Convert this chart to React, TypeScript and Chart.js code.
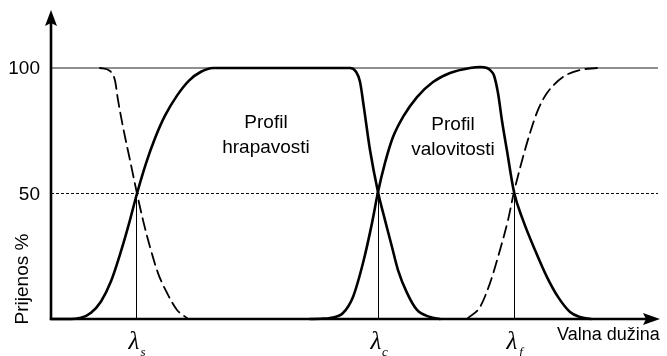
import React, { useEffect, useRef } from "react";
import { Chart, registerables } from "chart.js";

Chart.register(...registerables);

// ---- data (x: wavelength units along the axis, y: transmission %) ----
const xMax = 609;
const yTickValues = [100, 50];
const yTickLabels = ["100", "50"];
const refEnd = 607;
const lambdaX = [85.5, 327.5, 463.5];
const lambdaSubs = ["s", "c", "f"];

// roughness profile (band between λs and λc)
const roughnessX = [0, 16, 30, 40, 50, 60, 70, 78, 86, 95, 104, 114, 126, 138, 150, 162, 299, 305, 309, 313, 319, 327, 334, 341, 347, 356, 366, 379, 389];
const roughnessY = [0, 0, 0.5, 2.5, 7, 15, 27, 38, 50, 62, 72, 81, 89, 95, 98.5, 100, 100, 98.5, 94.5, 84, 67.3, 50.6, 39.4, 28.7, 19.5, 10.4, 3.6, 0.8, 0];

// waviness profile (band between λc and λf)
const wavinessX = [259, 270, 279, 292, 302, 312, 321, 327, 334, 342, 352, 366, 382, 399, 419, 429, 436, 440, 443, 447, 451, 456, 463, 472, 484, 496, 507, 519, 529, 540];
const wavinessY = [0, 0.1, 0.4, 2.4, 8.8, 22.3, 38.2, 50.6, 62.2, 72.5, 80.5, 88.4, 94.4, 98, 100, 100.4, 100, 98.8, 97, 90, 79, 67, 50.6, 39.4, 27.5, 16.7, 8.8, 2.8, 0.8, 0];

// dashed cut-off at λs
const shortCutX = [49, 59, 64, 67, 72, 79, 86, 92, 99, 107, 116, 126, 136];
const shortCutY = [100, 98.8, 95, 87.3, 76.5, 63.3, 50, 39.4, 28.7, 18.3, 10.4, 3.6, 0.4];

// dashed cut-off at λf
const longCutX = [417, 429, 439, 449, 457, 463, 472, 479, 487, 496, 512, 529, 546];
const longCutY = [0.4, 4.8, 14.3, 27.5, 39.4, 50.6, 64.5, 74.1, 83.3, 90, 96.4, 99.2, 100];

const profileLabels = [
  { x: 215, y: 78, lines: ["Profil", "hrapavosti"] },
  { x: 402, y: 77.3, lines: ["Profil", "valovitosti"] },
];
const yAxisTitle = "Prijenos %";
const xAxisTitle = "Valna dužina";

const pts = (xs: number[], ys: number[]) => xs.map((x, i) => ({ x, y: ys[i] }));

const SANS = '"Liberation Sans", Arial, sans-serif';
const SERIF = '"Liberation Serif", "Times New Roman", serif';

const decorPlugin = {
  id: "decor",
  afterDatasetsDraw(chart: any) {
    const ctx = chart.ctx as CanvasRenderingContext2D;
    const xs = chart.scales.x;
    const ys = chart.scales.y;
    const x0 = xs.getPixelForValue(0);
    const y0 = ys.getPixelForValue(0);
    const xEnd = xs.getPixelForValue(xMax);
    const yTop = ys.getPixelForValue(100) - 58;
    ctx.save();
    // axes
    ctx.strokeStyle = "#000";
    ctx.fillStyle = "#000";
    ctx.lineWidth = 2.6;
    ctx.lineCap = "butt";
    ctx.beginPath();
    ctx.moveTo(x0, y0 + 1);
    ctx.lineTo(x0, yTop + 12);
    ctx.moveTo(x0 - 1.3, y0);
    ctx.lineTo(xEnd - 12, y0);
    ctx.stroke();
    // arrow heads
    ctx.beginPath();
    ctx.moveTo(x0, yTop);
    ctx.lineTo(x0 - 6, yTop + 16);
    ctx.lineTo(x0, yTop + 13);
    ctx.lineTo(x0 + 6, yTop + 16);
    ctx.closePath();
    ctx.fill();
    ctx.beginPath();
    ctx.moveTo(xEnd, y0);
    ctx.lineTo(xEnd - 17, y0 - 6);
    ctx.lineTo(xEnd - 14, y0);
    ctx.lineTo(xEnd - 17, y0 + 6);
    ctx.closePath();
    ctx.fill();

    // y tick labels
    ctx.font = `19px ${SANS}`;
    ctx.textAlign = "right";
    ctx.textBaseline = "middle";
    yTickValues.forEach((v, i) => {
      ctx.fillText(yTickLabels[i], x0 - 11, ys.getPixelForValue(v) + 1);
    });

    // y axis title
    ctx.save();
    ctx.translate(x0 - 28, y0 - 40);
    ctx.rotate(-Math.PI / 2);
    ctx.textAlign = "center";
    ctx.textBaseline = "middle";
    ctx.font = `19px ${SANS}`;
    ctx.fillText(yAxisTitle, 0, 0);
    ctx.restore();

    // x axis title
    ctx.textAlign = "left";
    ctx.textBaseline = "middle";
    ctx.font = `18px ${SANS}`;
    ctx.fillText(xAxisTitle, xEnd - 103, y0 + 16);

    // profile labels
    ctx.textAlign = "center";
    ctx.font = `19px ${SANS}`;
    profileLabels.forEach((p) => {
      const px = xs.getPixelForValue(p.x);
      const py = ys.getPixelForValue(p.y);
      p.lines.forEach((t, i) => ctx.fillText(t, px, py + i * 25));
    });

    // lambda labels
    lambdaX.forEach((lx, i) => {
      const px = xs.getPixelForValue(lx);
      ctx.textAlign = "center";
      ctx.textBaseline = "middle";
      ctx.font = `italic 25px ${SERIF}`;
      ctx.fillText("λ", px - 2.5, y0 + 23);
      ctx.font = `italic 13px ${SERIF}`;
      ctx.fillText(lambdaSubs[i], px + 6.5, y0 + 34);
    });
    ctx.restore();
  },
};

export default function App() {
  const ref = useRef<HTMLCanvasElement | null>(null);
  useEffect(() => {
    if (!ref.current) return;
    const refLine = (level: number, dash: number[], color: string, w: number) => ({
      data: [{ x: 0, y: level }, { x: refEnd, y: level }],
      borderColor: color,
      borderWidth: w,
      borderDash: dash,
      pointRadius: 0,
      order: 2,
    });
    const vLine = (x: number) => ({
      data: [{ x, y: 0 }, { x, y: 50 }],
      borderColor: "#000",
      borderWidth: 1,
      pointRadius: 0,
      order: 2,
    });
    const curve = (xs: number[], ys: number[], dash: number[], w: number) => ({
      data: pts(xs, ys),
      borderColor: "#000",
      borderWidth: w,
      borderDash: dash,
      pointRadius: 0,
      cubicInterpolationMode: "monotone",
      borderCapStyle: "round",
      borderJoinStyle: "round",
      order: 0,
    });
    const chart = new Chart(ref.current, {
      type: "line",
      data: {
        datasets: [
          refLine(yTickValues[0], [], "#6a6a6a", 1.4),
          refLine(yTickValues[1], [3, 2], "#111", 1),
          ...lambdaX.map(vLine),
          curve(roughnessX, roughnessY, [], 2.6),
          curve(wavinessX, wavinessY, [], 2.6),
          curve(shortCutX, shortCutY, [12, 6], 1.8),
          curve(longCutX, longCutY, [12, 6], 1.8),
        ] as any,
      },
      options: {
        animation: false,
        responsive: false,
        clip: false as any,
        layout: { padding: { left: 51, right: 7, top: 68, bottom: 37 } },
        plugins: { legend: { display: false }, tooltip: { enabled: false } },
        scales: {
          x: { type: "linear", min: 0, max: xMax, display: false },
          y: { type: "linear", min: 0, max: 100, display: false },
        },
      },
      plugins: [decorPlugin],
    });
    return () => chart.destroy();
  }, []);
  return (
    <div style={{ position: "fixed", left: 0, top: 0, width: 667, height: 356, background: "#fff" }}>
      <canvas ref={ref} width={667} height={356} />
    </div>
  );
}
